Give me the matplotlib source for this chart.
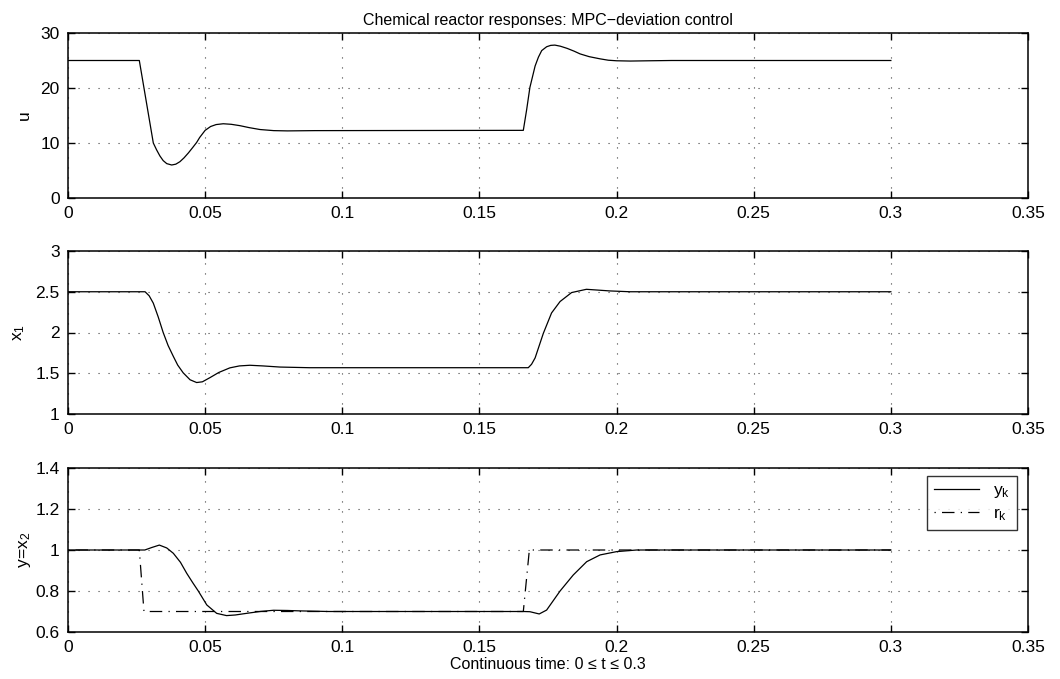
import matplotlib
matplotlib.use("Agg")
import matplotlib.pyplot as plt

plt.rcParams['font.family'] = ['Liberation Sans', 'DejaVu Sans']
plt.rcParams['mathtext.fontset'] = 'custom'
plt.rcParams['mathtext.rm'] = 'Liberation Sans'
plt.rcParams['mathtext.it'] = 'Liberation Sans'

# ---- data ----
t_u = [0, 0.026, 0.0277, 0.0294, 0.0311, 0.0323, 0.0335, 0.0347, 0.036, 0.0378,
       0.0393, 0.0408, 0.0423, 0.0439, 0.0455, 0.0469, 0.048, 0.050, 0.052, 0.054,
       0.0566, 0.0595, 0.0627, 0.066, 0.070, 0.075, 0.080, 0.090, 0.166, 0.1672,
       0.1684, 0.1703, 0.1715, 0.1727, 0.1745, 0.1760, 0.1775, 0.1795, 0.1820,
       0.1845, 0.1867, 0.1900, 0.1940, 0.1970, 0.2000, 0.2050, 0.2120, 0.2200, 0.3]
u = [25, 25, 20, 15, 10, 8.75, 7.65, 6.8, 6.25, 6.0,
     6.15, 6.6, 7.3, 8.2, 9.2, 10.1, 11.0, 12.3, 13.0, 13.35,
     13.5, 13.4, 13.15, 12.8, 12.45, 12.25, 12.2, 12.25, 12.3, 16.0,
     20.1, 24.0, 25.6, 26.8, 27.5, 27.75, 27.8, 27.6, 27.2,
     26.7, 26.2, 25.7, 25.3, 25.05, 24.95, 24.9, 24.95, 25.0, 25.0]

t_x1 = [0, 0.0281, 0.0296, 0.0311, 0.0329, 0.0347, 0.0365, 0.0384, 0.040, 0.042,
        0.0445, 0.0469, 0.049, 0.0518, 0.055, 0.059, 0.0625, 0.0663, 0.071, 0.0773,
        0.088, 0.1678, 0.169, 0.1703, 0.1733, 0.1763, 0.1794, 0.1836, 0.189, 0.1976,
        0.2049, 0.3]
x1 = [2.5, 2.5, 2.45, 2.36, 2.19, 2.0, 1.84, 1.707, 1.6, 1.505,
      1.42, 1.386, 1.395, 1.447, 1.51, 1.566, 1.59, 1.598, 1.59, 1.576,
      1.568, 1.568, 1.61, 1.688, 1.99, 2.24, 2.38, 2.49, 2.53, 2.51,
      2.5, 2.5]

t_y = [0, 0.028, 0.0305, 0.0333, 0.036, 0.0384, 0.041, 0.0433, 0.0455, 0.0475,
       0.0506, 0.0542, 0.0578, 0.061, 0.0651, 0.070, 0.0749, 0.080, 0.0846, 0.095,
       0.166, 0.1684, 0.1718, 0.1745, 0.1794, 0.1842, 0.1891, 0.194, 0.200, 0.2073,
       0.3]
y = [1.0, 1.0, 1.012, 1.024, 1.01, 0.984, 0.94, 0.886, 0.84, 0.80,
     0.732, 0.691, 0.680, 0.683, 0.691, 0.700, 0.706, 0.705, 0.703, 0.700,
     0.700, 0.699, 0.688, 0.707, 0.80, 0.878, 0.943, 0.976, 0.992, 1.0,
     1.0]

t_r = [0, 0.026, 0.0277, 0.166, 0.1682, 0.3]
r = [1, 1, 0.7, 0.7, 1, 1]

xticks = [0, 0.05, 0.1, 0.15, 0.2, 0.25, 0.3, 0.35]
xticklabels = ['0', '0.05', '0.1', '0.15', '0.2', '0.25', '0.3', '0.35']
yticks_u = [0, 10, 20, 30]
yticks_x1 = [1, 1.5, 2, 2.5, 3]
yticklabels_x1 = ['1', '1.5', '2', '2.5', '3']
yticks_y = [0.6, 0.8, 1.0, 1.2, 1.4]
yticklabels_y = ['0.6', '0.8', '1', '1.2', '1.4']

W, H = 1060, 679
fig = plt.figure(figsize=(W / 100, H / 100), dpi=100)
fs = 12.5

def box(top, bottom, left=68, right=1028):
    return [left / W, 1 - bottom / H, (right - left) / W, (bottom - top) / H]

def style(ax, yt, ytl, ylim):
    ax.set_xlim(0, 0.35)
    ax.set_ylim(*ylim)
    ax.set_xticks(xticks)
    ax.set_xticklabels(xticklabels)
    ax.set_yticks(yt)
    ax.set_yticklabels(ytl)
    ax.tick_params(direction='in', top=True, right=True, length=5, width=1.0,
                   labelsize=fs, pad=6, colors='black')
    ax.grid(True, color='0.25', linestyle=(0, (1, 8)), linewidth=0.8)
    for s in ax.spines.values():
        s.set_linewidth(1.1)
        s.set_color('black')

lw = 0.9
ax1 = fig.add_axes(box(33, 198))
ax1.plot(t_u, u, color='black', linewidth=lw)
style(ax1, yticks_u, [str(v) for v in yticks_u], (0, 30))
ax1.set_ylabel('u', fontsize=fs, labelpad=6)
ax1.set_title('Chemical reactor responses: MPC\u2212deviation control', fontsize=fs - 1, pad=6)

ax2 = fig.add_axes(box(251, 414))
ax2.plot(t_x1, x1, color='black', linewidth=lw)
style(ax2, yticks_x1, yticklabels_x1, (1, 3))
ax2.set_ylabel(r'$\mathregular{x_1}$', fontsize=fs, labelpad=6)

ax3 = fig.add_axes(box(468, 632))
ax3.plot(t_y, y, color='black', linewidth=lw, label=r'$\mathregular{y_k}$')
ax3.plot(t_r, r, color='black', linewidth=lw, linestyle=(0, (1, 5, 10, 5)),
         label=r'$\mathregular{r_k}$')
style(ax3, yticks_y, yticklabels_y, (0.6, 1.4))
ax3.set_ylabel(r'$\mathregular{y\!=\!x_2}$', fontsize=fs, labelpad=2)
ax3.set_xlabel('Continuous time: 0 \u2264 t \u2264 0.3', fontsize=fs - 1, labelpad=1)
leg = ax3.legend(loc='upper right', fontsize=fs, frameon=True, fancybox=False,
                 edgecolor='black', handlelength=2.6, handletextpad=0.8,
                 borderpad=0.4, labelspacing=0.35, borderaxespad=0,
                 bbox_to_anchor=(0.9885, 0.951))
leg.get_frame().set_linewidth(1.0)

fig.savefig('out.png', dpi=100, facecolor='white')
